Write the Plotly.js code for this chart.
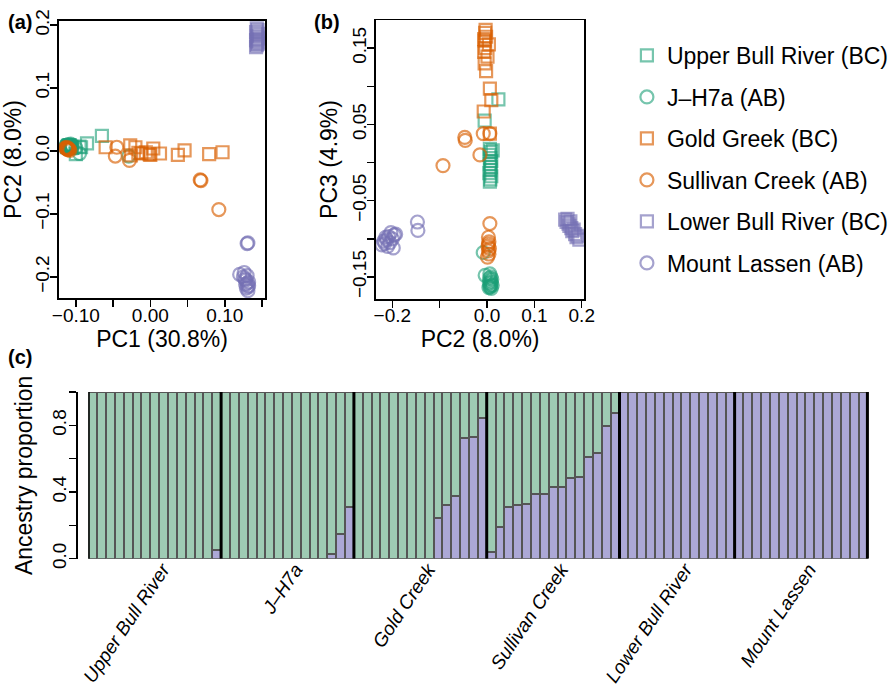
<!DOCTYPE html>
<html><head><meta charset="utf-8">
<script src="https://cdn.plot.ly/plotly-3.0.1.min.js"></script>
<style>html,body{margin:0;padding:0;background:#fff}#chart{width:894px;height:687px}</style>
</head><body><div id="chart"></div><script>
// ---------- data ----------
const legendNames = ["Upper Bull River (BC)", "J\u2013H7a (AB)", "Gold Greek (BC)", "Sullivan Creek (AB)", "Lower Bull River (BC)", "Mount Lassen (AB)"];
const groupLabels = ["Upper Bull River", "J\u2013H7a", "Gold Creek", "Sullivan Creek", "Lower Bull River", "Mount Lassen"];

// PCA scores per population (PC1, PC2, PC3)
const ubrPC1 = [-0.112,-0.110,-0.109,-0.111,-0.108,-0.107,-0.110,-0.106,-0.105,-0.109,-0.095,-0.093,-0.085,-0.065,-0.100];
const ubrPC2 = [0.006,0.008,0.005,0.007,0.009,0.006,0.008,0.007,0.005,0.009,0.007,0.006,0.012,0.024,-0.005];
const ubrPC3 = [0.018,0.014,0.010,0.006,0.002,-0.002,-0.006,-0.010,-0.014,-0.018,-0.022,-0.025,0.016,0.083,0.055];

const jhPC1 = [-0.114,-0.112,-0.110,-0.108,-0.113,-0.111,-0.109,-0.107,-0.105,-0.110,-0.112,-0.106,-0.100,-0.095,-0.029];
const jhPC2 = [0.006,0.008,0.010,0.007,0.009,0.005,0.008,0.011,0.007,0.006,0.004,0.009,0.005,-0.004,-0.008];
const jhPC3 = [-0.146,-0.150,-0.153,-0.155,-0.157,-0.158,-0.160,-0.161,-0.162,-0.163,-0.164,-0.165,-0.152,-0.148,-0.118];

const gcPC1 = [-0.060,-0.027,-0.026,-0.016,-0.012,-0.006,-0.001,0.004,0.013,0.037,0.046,0.079,0.097,-0.020,0.000];
const gcPC2 = [0.006,0.009,-0.007,-0.003,-0.004,-0.002,-0.005,0.004,-0.004,-0.006,0.001,-0.005,-0.002,0.006,-0.006];
const gcPC3 = [0.038,0.082,0.067,0.174,0.170,0.165,0.160,0.155,0.150,0.145,0.139,0.130,0.120,0.097,0.162];

const scPC1 = [0.068,0.067,0.092,-0.047,-0.045,-0.028,-0.112,-0.110,-0.113,-0.111,-0.109,-0.112,-0.108,-0.114,-0.111];
const scPC2 = [-0.047,-0.046,-0.093,-0.008,0.006,-0.015,0.006,0.003,0.004,0.002,0.003,0.004,0.001,0.005,0.003];
const scPC3 = [0.033,0.029,-0.004,0.038,0.038,0.010,-0.080,-0.098,-0.104,-0.110,-0.116,-0.120,-0.124,-0.113,-0.107];

const lbrPC1 = [0.142,0.143,0.144,0.145,0.143,0.142,0.144,0.146,0.143,0.145,0.142,0.144,0.143];
const lbrPC2 = [0.165,0.168,0.170,0.172,0.174,0.176,0.178,0.180,0.183,0.186,0.189,0.192,0.195];
const lbrPC3 = [-0.075,-0.078,-0.074,-0.080,-0.083,-0.077,-0.086,-0.090,-0.088,-0.094,-0.098,-0.096,-0.101];

const mlPC1 = [0.130,0.131,0.120,0.125,0.128,0.130,0.132,0.129,0.131,0.127,0.130,0.132,0.128,0.126,0.131];
const mlPC2 = [-0.147,-0.146,-0.196,-0.200,-0.205,-0.210,-0.214,-0.218,-0.222,-0.203,-0.198,-0.208,-0.212,-0.193,-0.216];
const mlPC3 = [-0.078,-0.089,-0.095,-0.100,-0.105,-0.110,-0.098,-0.103,-0.108,-0.092,-0.112,-0.097,-0.101,-0.094,-0.106];

// ADMIXTURE (K=2): proportion of the purple cluster per individual
const ubrQ = [0,0,0,0,0,0,0,0,0,0,0,0,0,0,0.05];
const jhQ  = [0,0,0,0,0,0,0,0,0,0,0,0,0.03,0.15,0.31];
const gcQ  = [0,0,0,0,0,0,0,0,0,0.246,0.322,0.376,0.722,0.732,0.846];
const scQ  = [0.04,0.188,0.312,0.32,0.326,0.386,0.386,0.43,0.43,0.482,0.488,0.608,0.634,0.796,0.872];
const lbrQ = [1,1,1,1,1,1,1,1,1,1,1,1,1];
const mlQ  = [1,1,1,1,1,1,1,1,1,1,1,1,1,1,1];

// ---------- styles ----------
const W = 894, H = 687;
const FONT = "Liberation Sans, Arial, Helvetica, sans-serif";
const popColors = ["rgba(27,158,119,0.6)","rgba(27,158,119,0.6)","rgba(217,95,2,0.65)","rgba(217,95,2,0.65)","rgba(117,112,179,0.65)","rgba(117,112,179,0.65)"];
const popSymbols = ["square-open","circle-open","square-open","circle-open","square-open","circle-open"];
const popSizes = [12,13,12,13,12,13];
const greenFill = "#9ecbb3", purpleFill = "#aca8d6";

const pcs = [[ubrPC1,ubrPC2,ubrPC3],[jhPC1,jhPC2,jhPC3],[gcPC1,gcPC2,gcPC3],[scPC1,scPC2,scPC3],[lbrPC1,lbrPC2,lbrPC3],[mlPC1,mlPC2,mlPC3]];
const qs = [ubrQ,jhQ,gcQ,scQ,lbrQ,mlQ];

const traces = [];
pcs.forEach((p,i)=>{
  const mk = {symbol: popSymbols[i], size: popSizes[i], color: popColors[i], line:{width:2.2, color: popColors[i]}};
  traces.push({type:'scatter', mode:'markers', x:p[0], y:p[1], xaxis:'x', yaxis:'y', name: legendNames[i], legendgroup:'g'+i, marker: mk, hoverinfo:'none'});
});
pcs.forEach((p,i)=>{
  const mk = {symbol: popSymbols[i], size: popSizes[i], color: popColors[i], line:{width:2.2, color: popColors[i]}};
  traces.push({type:'scatter', mode:'markers', x:p[1], y:p[2], xaxis:'x2', yaxis:'y2', name: legendNames[i], legendgroup:'g'+i, showlegend:false, marker: mk, hoverinfo:'none'});
});

// bars
const purple = [].concat(...qs);
const green = purple.map(v => +(1 - v).toFixed(3));
const idx = purple.map((_,k)=>k+1);
const barLine = {color:'#555555', width:2};
traces.push({type:'bar', x: idx, y: purple, xaxis:'x3', yaxis:'y3', marker:{color: purpleFill, line: barLine}, showlegend:false, hoverinfo:'none'});
traces.push({type:'bar', x: idx, y: green, xaxis:'x3', yaxis:'y3', marker:{color: greenFill, line: barLine}, showlegend:false, hoverinfo:'none'});

// group boundaries and centres
const sizes = qs.map(q=>q.length);
const bounds = [0.5]; sizes.forEach(s=>bounds.push(bounds[bounds.length-1]+s));
const centres = sizes.map((s,i)=> (bounds[i]+bounds[i+1])/2);
const total = bounds[bounds.length-1];
const shapes = bounds.map(b=>({type:'line', xref:'x3', yref:'y3', x0:b, x1:b, y0:0, y1:1, line:{color:'#000', width:3}}));

const tickFont = {family: FONT, size: 19, color:'#000'};
const titleFont = {family: FONT, size: 23, color:'#000'};
const boxAxis = {showline:true, mirror:true, linecolor:'#000', linewidth:1.5, ticks:'outside', ticklen:7, tickwidth:1.5, tickcolor:'#000', showgrid:false, zeroline:false, tickfont: tickFont, automargin:false};

const layout = {
  width: W, height: H, margin:{l:0,r:0,t:0,b:0}, paper_bgcolor:'#fff', plot_bgcolor:'#fff',
  font:{family: FONT, color:'#000'},
  barmode:'stack', bargap:0,
  showlegend:true,
  legend:{x:634/W, y:1-34/H, xanchor:'left', yanchor:'top', font:{family:FONT, size:23, color:'#000'}, tracegroupgap:8.6, bgcolor:'rgba(0,0,0,0)'},
  xaxis: Object.assign({}, boxAxis, {domain:[59.3/W, 268.3/W], anchor:'y', range:[-0.1231,0.1544],
    tickvals:[-0.1,-0.05,0,0.05,0.1,0.15], ticktext:['\u22120.10','','0.00','','0.10',''], ticklabelstandoff:-8,
    title:{text:'PC1 (30.8%)', font:titleFont, standoff:4}}),
  yaxis: Object.assign({}, boxAxis, {domain:[1-298.3/H, 1-20.7/H], anchor:'x', range:[-0.234,0.207],
    tickvals:[-0.2,-0.1,0,0.1,0.2], ticktext:['\u22120.2','\u22120.1','0.0','0.1','0.2'], tickangle:-90, ticklabelstandoff:-6,
    title:{text:'PC2 (8.0%)', font:titleFont, standoff:4}}),
  xaxis2: Object.assign({}, boxAxis, {domain:[380/W, 591/W], anchor:'y2', range:[-0.235,0.2056],
    tickvals:[-0.2,-0.1,0,0.1,0.2], ticktext:['\u22120.2','','0.0','0.1','0.2'], ticklabelstandoff:-8,
    title:{text:'PC2 (8.0%)', font:titleFont, standoff:4}}),
  yaxis2: Object.assign({}, boxAxis, {domain:[1-299/H, 1-20/H], anchor:'x2', range:[-0.179,0.187],
    tickvals:[-0.15,-0.1,-0.05,0,0.05,0.1,0.15], ticktext:['\u22120.15','','\u22120.05','','0.05','','0.15'], tickangle:-90, ticklabelstandoff:-6,
    title:{text:'PC3 (4.9%)', font:titleFont, standoff:4}}),
  xaxis3: {domain:[89.3/W, 881.7/W], anchor:'y3', range:[0.5, total+0.5], showline:false, showgrid:false, zeroline:false, ticks:'',
    tickvals: centres, ticktext: groupLabels, tickangle:-56, ticklabelshift:8, ticklabelstandoff:-5,
    tickfont:{family:FONT, size:19, color:'#000', style:'italic'}, automargin:false},
  yaxis3: {domain:[1-558.7/H, 1-392/H], anchor:'free', position:77/W, range:[0,1], showline:true, linecolor:'#000', linewidth:1.5,
    ticks:'outside', ticklen:7, tickwidth:1.5, tickcolor:'#000', showgrid:false, zeroline:false,
    tickvals:[0,0.2,0.4,0.6,0.8,1], ticktext:['0.0','','0.4','','0.8',''], tickangle:-90, ticklabelstandoff:-4, tickfont: tickFont,
    title:{text:'Ancestry proportion', font:titleFont, standoff:8}, automargin:false},
  shapes: shapes,
  annotations:[
    {text:'<b>(a)</b>', xref:'paper', yref:'paper', x:6/W, y:1-22/H, xanchor:'left', yanchor:'middle', showarrow:false, font:{family:FONT, size:20, color:'#000'}},
    {text:'<b>(b)</b>', xref:'paper', yref:'paper', x:316/W, y:1-22/H, xanchor:'left', yanchor:'middle', showarrow:false, font:{family:FONT, size:20, color:'#000'}},
    {text:'<b>(c)</b>', xref:'paper', yref:'paper', x:6/W, y:1-357/H, xanchor:'left', yanchor:'middle', showarrow:false, font:{family:FONT, size:20, color:'#000'}}
  ]
};

Plotly.newPlot('chart', traces, layout, {staticPlot:true, displayModeBar:false});
</script></body></html>
